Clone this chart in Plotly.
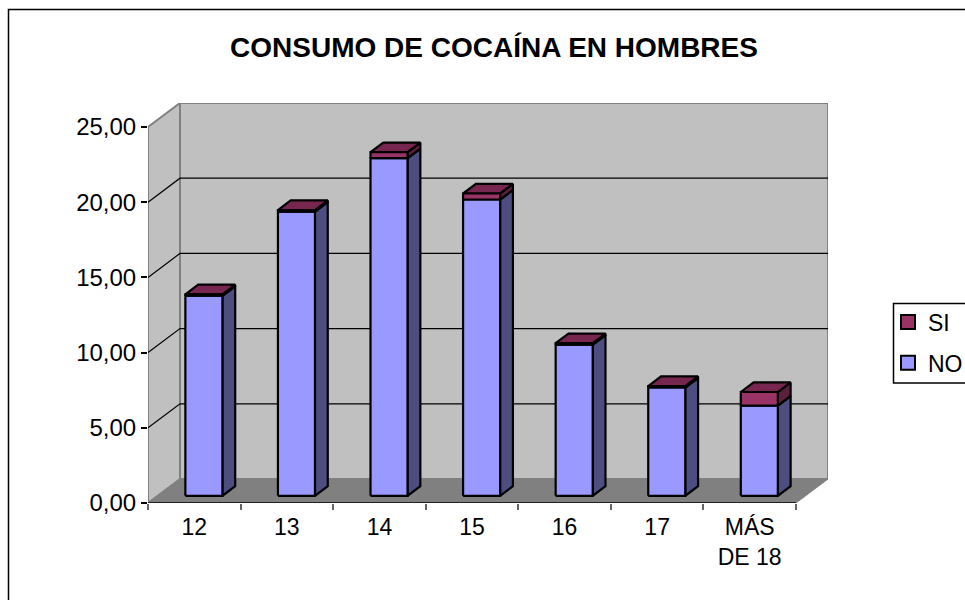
import plotly.graph_objects as go

categories = ["12", "13", "14", "15", "16", "17", "MÁS<br>DE 18"]
no_values = [13.3, 18.9, 22.45, 19.7, 10.05, 7.2, 6.0]
si_values = [0.1, 0.1, 0.4, 0.4, 0.1, 0.1, 0.9]
y_ticks = [0, 5, 10, 15, 20, 25]
y_labels = ["0,00", "5,00", "10,00", "15,00", "20,00", "25,00"]

W, H = 965, 600
PX_L, PX_R, PX_T, PX_B = 148, 828, 103, 503
CAT_PX = (796 - 148) / 7
VAL_PX = (503 - 127) / 25
DX = 32 / CAT_PX      # oblique shift of full depth, in x units
DY = 24 / VAL_PX      # oblique shift of full depth, in value units
XMAX = (PX_R - PX_L) / CAT_PX
YMAX = (PX_B - PX_T) / VAL_PX
NCAT = len(categories)
TOPV = y_ticks[-1]


def pr(x, v, z):
    return x + z * DX, v + z * DY


def poly(pts):
    p = [pr(*q) for q in pts] + [pr(*pts[0])]
    return [a for a, _ in p], [b for _, b in p]


fig = go.Figure()


def face(pts, fill, line=None, lw=0):
    x, y = poly(pts)
    fig.add_trace(go.Scatter(
        x=x, y=y, mode="lines", fill="toself", fillcolor=fill,
        line=dict(color=line or fill, width=lw), hoverinfo="skip",
        cliponaxis=False, showlegend=False))


def seg(pts, color="black", lw=1.2):
    x, y = zip(*[pr(*q) for q in pts])
    fig.add_trace(go.Scatter(x=x, y=y, mode="lines", line=dict(color=color, width=lw),
                             hoverinfo="skip", cliponaxis=False, showlegend=False))


WALL, EDGE = "#C0C0C0", "#808080"
face([(0, 0, 1), (NCAT, 0, 1), (NCAT, TOPV, 1), (0, TOPV, 1)], WALL, EDGE, 2)
face([(0, 0, 0), (0, 0, 1), (0, TOPV, 1), (0, TOPV, 0)], WALL, EDGE, 2)
face([(0, 0, 0), (NCAT, 0, 0), (NCAT, 0, 1), (0, 0, 1)], EDGE, EDGE, 1)

for t in y_ticks[1:-1]:
    seg([(0, t, 0), (0, t, 1), (NCAT, t, 1)])

seg([(0, 0, 0), (NCAT, 0, 0)], "black", 1.6)

Z0, Z1, GAP = 0.3, 0.7, 0.3
NO_F, NO_S, NO_T = "#9999FF", "#4D4D80", "#4D4D80"
SI_F, SI_S, SI_T = "#993366", "#5C1F3D", "#77264F"
LW = 2.2
for i in range(NCAT):
    x0, x1 = i + GAP, i + 1 - GAP
    base = 0
    for val, (cf, cs, ct) in ((no_values[i], (NO_F, NO_S, NO_T)),
                              (si_values[i], (SI_F, SI_S, SI_T))):
        top = base + val
        face([(x1, base, Z0), (x1, base, Z1), (x1, top, Z1), (x1, top, Z0)], cs, "black", LW)
        face([(x0, top, Z0), (x1, top, Z0), (x1, top, Z1), (x0, top, Z1)], ct, "black", LW)
        face([(x0, base, Z0), (x1, base, Z0), (x1, top, Z0), (x0, top, Z0)], cf, "black", LW)
        base = top

for name, color, rank in (("SI", SI_F, 1), ("NO", NO_F, 2)):
    fig.add_trace(go.Scatter(x=[None], y=[None], mode="markers", name=name, legendrank=rank,
                             legendgroup=name,
                             marker=dict(symbol="square", size=14, color=color,
                                         line=dict(color="black", width=2))))

FAMILY = "Liberation Sans, Arial, sans-serif"
fig.update_layout(
    width=W, height=H, autosize=False,
    margin=dict(l=0, r=0, t=0, b=0, autoexpand=False),
    paper_bgcolor="white", plot_bgcolor="rgba(0,0,0,0)",
    title=dict(text="<b>CONSUMO DE COCAÍNA EN HOMBRES</b>", x=494 / W, xanchor="center",
               y=1 - 47 / H, yanchor="middle", automargin=False,
               font=dict(family=FAMILY, size=28, color="black")),
    xaxis=dict(domain=[PX_L / W, PX_R / W], range=[0, XMAX], showgrid=False, zeroline=False,
               automargin=False, showline=False, tickmode="array",
               tickvals=[i + 0.5 for i in range(NCAT)], ticktext=categories,
               ticks="", tickfont=dict(family=FAMILY, size=23, color="black"), ticklabelstandoff=8,
               minor=dict(tickmode="array", tickvals=list(range(NCAT + 1)), ticks="outside",
                          ticklen=6, tickwidth=1.5, tickcolor="#666666", showgrid=False)),
    yaxis=dict(domain=[1 - PX_B / H, 1 - PX_T / H], range=[0, YMAX], showgrid=False, zeroline=False,
               automargin=False, showline=False, tickmode="array", tickvals=y_ticks, ticktext=y_labels,
               ticks="outside", ticklen=6, tickwidth=1.5, tickcolor="black",
               tickfont=dict(family=FAMILY, size=24, color="black")),
    legend=dict(x=888 / W, y=1 - 300.5 / H, xanchor="left", yanchor="top",
                borderwidth=0, bgcolor="rgba(0,0,0,0)",
                font=dict(family=FAMILY, size=23, color="black"),
                itemwidth=30, tracegroupgap=8),
    shapes=[dict(type="rect", xref="paper", yref="paper", x0=8.5 / W, x1=1.2, y0=-0.2, y1=1 - 9.5 / H,
                 line=dict(color="black", width=1.5), layer="below"),
            dict(type="rect", xref="paper", yref="paper", x0=893.5 / W, x1=1.05, y0=1 - 383 / H, y1=1 - 303.5 / H,
                 line=dict(color="black", width=1.5), fillcolor="white", layer="above")],
)
fig.write_html("out.html", config={"displayModeBar": False},
               post_script="document.body.style.margin='0';")
